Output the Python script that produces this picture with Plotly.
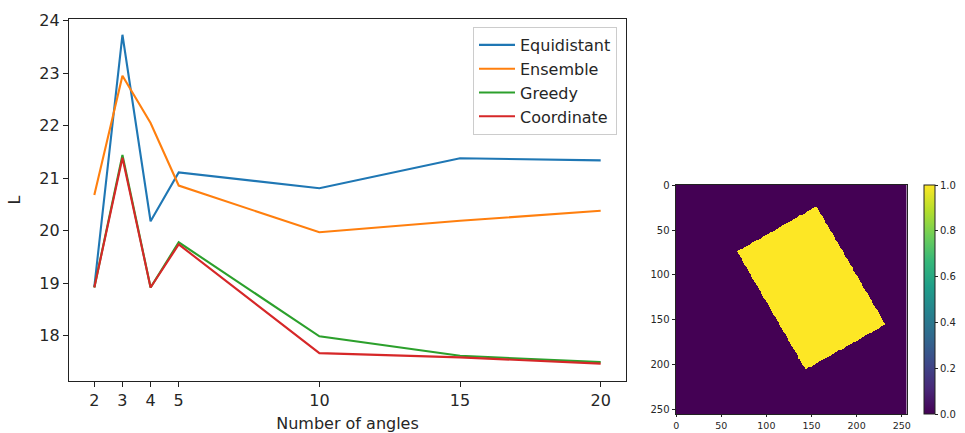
import numpy as np
import plotly.graph_objects as go

# ---------------- data ----------------
angles = [2, 3, 4, 5, 10, 15, 20]
equidistant = [18.93, 23.73, 20.18, 21.11, 20.81, 21.38, 21.34]
ensemble = [20.68, 22.95, 22.05, 20.86, 19.97, 20.19, 20.38]
greedy = [18.92, 21.44, 18.92, 19.78, 17.99, 17.62, 17.50]
coordinate = [18.92, 21.39, 18.92, 19.74, 17.67, 17.59, 17.47]
series_names = ["Equidistant", "Ensemble", "Greedy", "Coordinate"]
x_ticks = [2, 3, 4, 5, 10, 15, 20]
y_ticks = [18, 19, 20, 21, 22, 23, 24]

# image: 256x256 mask with a rotated rectangle (corners, in pixel coords x,y)
img_size = 256
rect_corners_x = [155.5, 232.0, 143.3, 67.6]
rect_corners_y = [23.4, 155.5, 205.8, 73.7]
img_ticks = [0, 50, 100, 150, 200, 250]
cbar_ticks = [0.0, 0.2, 0.4, 0.6, 0.8, 1.0]

# ---------------- build mask ----------------
jj, ii = np.meshgrid(np.arange(img_size), np.arange(img_size))  # jj: x (col), ii: y (row)
inside = np.ones((img_size, img_size), dtype=bool)
n = len(rect_corners_x)
for k in range(n):
    x0, y0 = rect_corners_x[k], rect_corners_y[k]
    x1, y1 = rect_corners_x[(k + 1) % n], rect_corners_y[(k + 1) % n]
    cross = (x1 - x0) * (ii - y0) - (y1 - y0) * (jj - x0)
    inside &= cross >= 0
z = inside.astype(float)

colors = ["#1f77b4", "#ff7f0e", "#2ca02c", "#d62728"]
FONT = "DejaVu Sans"
TXT = "#262626"

W, H = 965, 433
HM_TOP, HM_BOT = 185.0, 414.0

fig = go.Figure()
for name, vals, c in zip(series_names, [equidistant, ensemble, greedy, coordinate], colors):
    fig.add_trace(go.Scatter(x=angles, y=vals, mode="lines", name=name,
                             line=dict(color=c, width=2.1), xaxis="x", yaxis="y"))

fig.add_trace(go.Heatmap(
    z=z, x=np.arange(img_size), y=np.arange(img_size), colorscale="Viridis",
    zmin=0, zmax=1, xaxis="x2", yaxis="y2", showlegend=False,
    colorbar=dict(
        x=923.5 / W, xanchor="left", xpad=0, y=1 - (HM_TOP + HM_BOT) / 2 / H, yanchor="middle",
        len=HM_BOT - HM_TOP, lenmode="pixels", thickness=11, thicknessmode="pixels", ypad=0,
        outlinewidth=1, outlinecolor="#222", ticks="outside", ticklen=3, tickcolor="#222",
        tickvals=cbar_ticks, ticktext=[f"{v:.1f}" for v in cbar_ticks],
        tickfont=dict(family=FONT, size=10, color=TXT),
    ),
))

axis_common = dict(showgrid=False, zeroline=False, showline=True, mirror=True,
                   linecolor="#222", linewidth=1.2, ticks="outside", tickcolor="#222",
                   automargin=False)

fig.update_layout(
    width=W, height=H, margin=dict(l=0, r=0, t=0, b=0),
    paper_bgcolor="white", plot_bgcolor="white",
    font=dict(family=FONT, color=TXT),
    xaxis=dict(domain=[69 / W, 626 / W], range=[1.1, 20.9], tickvals=x_ticks,
               ticklen=5, tickfont=dict(size=16),
               title=dict(text="Number of angles", font=dict(size=16), standoff=10),
               **axis_common),
    yaxis=dict(domain=[1 - 381 / H, 1 - 19 / H], range=[17.14, 24.03], tickvals=y_ticks,
               ticklen=5, tickfont=dict(size=16),
               title=dict(text="L", font=dict(size=16), standoff=14),
               **axis_common),
    xaxis2=dict(domain=[675.7 / W, 906.7 / W], range=[-0.5, 255.5], tickvals=img_ticks,
                ticklen=2, tickfont=dict(size=9.5), ticklabelstandoff=0, anchor="y2",
                **axis_common),
    yaxis2=dict(domain=[1 - HM_BOT / H, 1 - HM_TOP / H], range=[255.5, -0.5], tickvals=img_ticks,
                ticklen=3, tickfont=dict(size=10), anchor="x2", **axis_common),
    legend=dict(x=617 / W, xanchor="right", y=1 - 27 / H, yanchor="top",
                bgcolor="rgba(255,255,255,0.8)", bordercolor="#cccccc", borderwidth=1,
                font=dict(size=16, family=FONT, color=TXT), tracegroupgap=0,
                itemwidth=36),
)

fig.write_html("out.html")
